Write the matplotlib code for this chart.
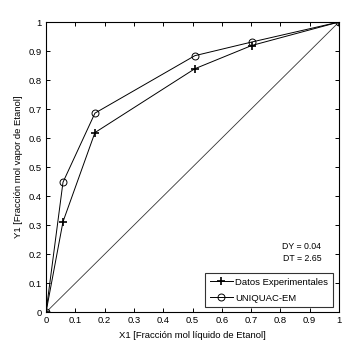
import matplotlib
matplotlib.use("Agg")
import matplotlib.pyplot as plt
from matplotlib import font_manager

x_exp = [0.0, 0.058, 0.167, 0.508, 0.702, 1.0]
y_exp = [0.0, 0.312, 0.619, 0.839, 0.919, 1.0]
x_uni = [0.0, 0.058, 0.167, 0.508, 0.702, 1.0]
y_uni = [0.0, 0.448, 0.686, 0.884, 0.931, 1.0]
diag = [0.0, 1.0]
xticks = [0, 0.1, 0.2, 0.3, 0.4, 0.5, 0.6, 0.7, 0.8, 0.9, 1]
yticks = [0, 0.1, 0.2, 0.3, 0.4, 0.5, 0.6, 0.7, 0.8, 0.9, 1]

names = {f.name for f in font_manager.fontManager.ttflist}
fam = ['Liberation Sans Narrow'] if 'Liberation Sans Narrow' in names else []
plt.rcParams['font.family'] = fam + ['Liberation Sans', 'DejaVu Sans']
narrow = bool(fam)
fs = 7.5 if narrow else 6.8

fig = plt.figure(figsize=(3.53, 3.54), dpi=100)
ax = fig.add_axes([46/353, 1-312.3/354, 293/353, 290.3/354])

ax.plot(diag, diag, color='#333333', lw=0.6)
ax.plot(x_exp, y_exp, color='black', lw=0.7, marker='+', ms=6, mew=1.2,
        label='Datos Experimentales')
ax.plot(x_uni, y_uni, color='black', lw=0.7, marker='o', ms=5, mfc='none', mew=0.7,
        label='UNIQUAC-EM')

ax.set_xlim(0, 1)
ax.set_ylim(0, 1)
ax.set_xticks(xticks)
ax.set_yticks(yticks)
ax.set_xticklabels([f'{t:g}' for t in xticks])
ax.set_yticklabels([f'{t:g}' for t in yticks])
ax.tick_params(direction='in', top=True, right=True, labelsize=fs, length=3, width=0.7, pad=3)
for s in ax.spines.values():
    s.set_linewidth(0.8)

ax.set_xlabel('X1 [Fracción mol líquido de Etanol]', fontsize=fs, labelpad=4)
ax.set_ylabel('Y1 [Fracción mol vapor de Etanol]', fontsize=fs, labelpad=4)

ax.text(0.94, 0.226, 'DY = 0.04', fontsize=fs - 0.5, ha='right', va='center')
ax.text(0.94, 0.184, 'DT = 2.65', fontsize=fs - 0.5, ha='right', va='center')

leg = ax.legend(loc='lower right', fontsize=fs, frameon=True, fancybox=False,
                edgecolor='black', borderpad=0.5, handlelength=2.4, handletextpad=0.3,
                labelspacing=0.75, borderaxespad=0.0, bbox_to_anchor=(0.98, 0.017))
leg.get_frame().set_linewidth(0.8)

fig.savefig('out.png', dpi=100, facecolor='white')
